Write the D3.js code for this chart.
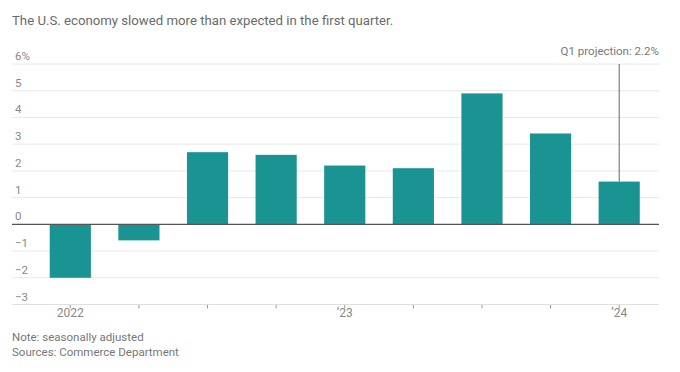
<!DOCTYPE html>
<html>
<head>
<meta charset="utf-8">
<script src="https://cdn.jsdelivr.net/npm/d3@7"></script>
<style>
  html, body { margin: 0; padding: 0; background: #fff; }
  svg { display: block; font-family: Roboto, "Noto Sans", sans-serif; }
</style>
</head>
<body>
<svg id="chart" width="680" height="372"></svg>
<script>
const quarters = ["2022Q1","2022Q2","2022Q3","2022Q4","2023Q1","2023Q2","2023Q3","2023Q4","2024Q1"];
const gdpGrowth = [-2.0, -0.6, 2.7, 2.6, 2.2, 2.1, 4.9, 3.4, 1.6];
const xTickLabels = {"2022Q1": "2022", "2023Q1": "’23", "2024Q1": "’24"};
const yTicks = [-3, -2, -1, 0, 1, 2, 3, 4, 5, 6];
const projection = { quarter: "2024Q1", label: "Q1 projection: 2.2%" };
const titleText = "The U.S. economy slowed more than expected in the first quarter.";
const notes = ["Note: seasonally adjusted", "Sources: Commerce Department"];

const svg = d3.select("#chart");
const left = 12, right = 659;

const x = d3.scaleBand().domain(quarters).range([36, 653.5]).paddingInner(0.4).paddingOuter(0.2);
const y = d3.scaleLinear().domain([-3, 6]).range([304.5, 64]);

// title
svg.append("text").attr("x", 12).attr("y", 25)
  .attr("font-size", 13.2).attr("fill", "#6a6a6a").text(titleText);

// gridlines + y labels
const g = svg.append("g");
g.selectAll("line.grid").data(yTicks.filter(d => d !== 0 && d !== -3)).join("line")
  .attr("class", "grid")
  .attr("x1", left).attr("x2", right)
  .attr("y1", d => y(d)).attr("y2", d => y(d))
  .attr("stroke", "#e8e8e8").attr("stroke-width", 1);

g.selectAll("text.ylab").data(yTicks).join("text")
  .attr("class", "ylab")
  .attr("x", 15).attr("y", d => y(d) - 4)
  .attr("font-size", 11.5).attr("fill", "#888")
  .text(d => d === 6 ? "6%" : d3.format("d")(d));

// bars
svg.append("g").selectAll("rect").data(quarters).join("rect")
  .attr("x", d => x(d))
  .attr("width", x.bandwidth())
  .attr("y", (d, i) => y(Math.max(0, gdpGrowth[i])))
  .attr("height", (d, i) => Math.abs(y(gdpGrowth[i]) - y(0)))
  .attr("fill", "#1a9393");

// zero line
svg.append("line").attr("x1", left).attr("x2", right)
  .attr("y1", y(0)).attr("y2", y(0))
  .attr("stroke", "#555").attr("stroke-width", 1.2);

// x axis
const xAxis = d3.axisBottom(x).tickSizeInner(4).tickSizeOuter(0)
  .tickFormat(d => xTickLabels[d] || "");
const ax = svg.append("g").attr("transform", `translate(0,${y(-3)})`).call(xAxis);
ax.select(".domain").remove();
ax.append("line").attr("x1", left).attr("x2", right).attr("y1", 0).attr("y2", 0)
  .attr("stroke", "#e0e0e0");
ax.selectAll(".tick line").attr("stroke", "#999");
ax.selectAll(".tick text").attr("font-size", 12).attr("fill", "#888")
  .attr("font-family", "Roboto, sans-serif").attr("dy", "0.45em");

// projection annotation
const pi = quarters.indexOf(projection.quarter);
const px = x(projection.quarter) + x.bandwidth() / 2;
svg.append("line").attr("x1", px).attr("x2", px)
  .attr("y1", y(6)).attr("y2", y(gdpGrowth[pi]))
  .attr("stroke", "#666").attr("stroke-width", 1);
svg.append("text").attr("x", right).attr("y", 55)
  .attr("text-anchor", "end").attr("font-size", 11.5).attr("fill", "#777")
  .text(projection.label);

// notes
svg.selectAll("text.note").data(notes).join("text")
  .attr("class", "note")
  .attr("x", 12).attr("y", (d, i) => 341 + i * 15)
  .attr("font-size", 11.5).attr("fill", "#777").text(d => d);
</script>
</body>
</html>
